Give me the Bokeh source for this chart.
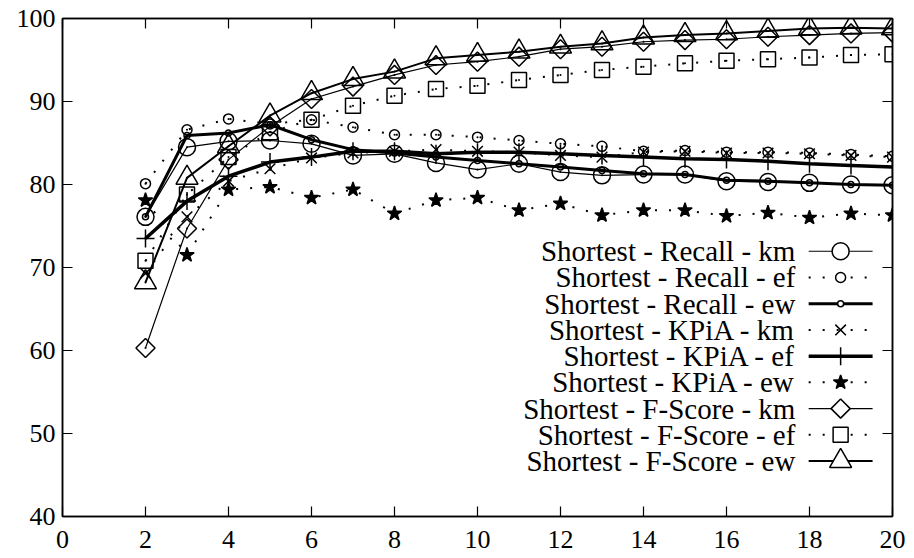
import math

from bokeh.plotting import figure
from bokeh.models import LinearAxis, FixedTicker
from bokeh.core.properties import value
from bokeh.embed import file_html
from bokeh.resources import INLINE

# number of clusters
k_values = list(range(2, 21))

# measured scores (%) per clustering method
recall_km = [76.1, 84.5, 85.2, 85.3, 84.9, 83.5, 83.7, 82.6, 81.8, 82.5,
             81.5, 81.1, 81.2, 81.2, 80.4, 80.3, 80.2, 80.0, 79.9]
recall_ef = [80.1, 86.6, 87.9, 87.3, 87.8, 86.9, 86.0, 86.0, 85.7, 85.3,
             84.9, 84.6, 84.0, 84.1, 83.9, 83.9, 83.8, 83.6, 83.4]
recall_ew = [76.1, 85.9, 86.2, 87.2, 85.4, 84.2, 83.8, 83.3, 82.9, 82.5,
             82.1, 81.7, 81.3, 81.2, 80.5, 80.4, 80.2, 80.0, 79.9]
kpia_km = [69.3, 76.1, 80.4, 81.9, 83.2, 83.8, 84.0, 84.2, 84.0, 83.9,
           83.5, 83.3, 83.9, 84.0, 83.8, 83.8, 83.7, 83.5, 83.3]
kpia_ef = [73.5, 78.0, 81.0, 82.7, 83.3, 84.0, 84.0, 83.7, 83.9, 83.9,
           83.7, 83.5, 83.3, 83.1, 83.0, 82.8, 82.5, 82.3, 82.1]
kpia_ew = [78.1, 71.5, 79.4, 79.7, 78.4, 79.4, 76.5, 78.1, 78.4, 76.9,
           77.7, 76.3, 76.9, 76.9, 76.2, 76.6, 76.0, 76.5, 76.3]
fscore_km = [60.3, 74.7, 83.0, 87.0, 90.3, 91.8, 93.2, 94.4, 94.8, 95.4,
             96.3, 96.6, 97.2, 97.4, 97.5, 97.8, 98.0, 98.2, 98.3]
fscore_ef = [70.8, 78.8, 83.3, 86.3, 87.8, 89.5, 90.7, 91.5, 91.9, 92.6,
             93.2, 93.8, 94.2, 94.6, 94.9, 95.1, 95.3, 95.6, 95.7]
fscore_ew = [68.2, 80.8, 84.6, 88.3, 91.0, 92.7, 93.6, 95.2, 95.6, 96.0,
             96.6, 97.0, 97.7, 98.0, 98.2, 98.5, 98.8, 98.9, 98.8]

series_labels = [
    "Shortest - Recall - km", "Shortest - Recall - ef", "Shortest - Recall - ew",
    "Shortest - KPiA - km", "Shortest - KPiA - ef", "Shortest - KPiA - ew",
    "Shortest - F-Score - km", "Shortest - F-Score - ef", "Shortest - F-Score - ew",
]
series_values = [recall_km, recall_ef, recall_ew, kpia_km, kpia_ef, kpia_ew,
                 fscore_km, fscore_ef, fscore_ew]

x_ticks = list(range(0, 21, 2))
y_ticks = list(range(40, 101, 10))

DOTTED = "2 12"
styles = [
    dict(marker="circle", size=17, lw=1.2, dash="solid", fill=None, angle=0),
    dict(marker="circle", size=10, lw=2.0, dash=DOTTED, fill=None, angle=0),
    dict(marker="circle", size=6, lw=3.0, dash="solid", fill=None, angle=0),
    dict(marker="x", size=15, lw=2.0, dash=DOTTED, fill=None, angle=0),
    dict(marker="cross", size=18, lw=3.5, dash="solid", fill=None, angle=0),
    dict(marker="star", size=15, lw=2.0, dash=DOTTED, fill="black", angle=0),
    dict(marker="square", size=13.5, lw=1.2, dash="solid", fill=None, angle=math.pi / 4),
    dict(marker="square", size=15, lw=2.0, dash=DOTTED, fill=None, angle=0),
    dict(marker="triangle", size=22, lw=2.0, dash="solid", fill=None, angle=0),
]

SERIF = "Liberation Serif"

p = figure(width=914, height=558, x_range=(0, 20), y_range=(40, 100),
           output_backend="svg", toolbar_location=None,
           min_border_left=62, min_border_right=22, min_border_top=18,
           min_border_bottom=42)
p.grid.visible = False
p.background_fill_color = "white"
p.border_fill_color = "white"
p.outline_line_color = "black"
p.outline_line_width = 1.5


def style_axis(ax, ticks, show_labels):
    ax.ticker = FixedTicker(ticks=ticks)
    ax.axis_line_color = "black"
    ax.axis_line_width = 1.5
    ax.major_tick_line_color = "black"
    ax.major_tick_line_width = 1.2
    ax.major_tick_in = 10
    ax.major_tick_out = 0
    ax.minor_tick_line_color = None
    if show_labels:
        ax.major_label_text_font = SERIF
        ax.major_label_text_font_size = "26px"
        ax.major_label_text_color = "black"
    else:
        # mirrored ticks only, no numbers
        ax.major_label_overrides = {t: "" for t in ticks}
        ax.major_label_text_font_size = "1px"
        ax.major_label_standoff = 0


style_axis(p.xaxis[0], x_ticks, True)
style_axis(p.yaxis[0], y_ticks, True)
p.xaxis[0].major_label_standoff = 14
p.yaxis[0].major_label_standoff = 7

top_axis = LinearAxis()
style_axis(top_axis, x_ticks, False)
p.add_layout(top_axis, "above")
right_axis = LinearAxis()
style_axis(right_axis, y_ticks, False)
p.add_layout(right_axis, "right")

# data series
for vals, st in zip(series_values, styles):
    p.line(k_values, vals, line_color="black", line_width=st["lw"],
           line_dash=st["dash"])
    p.scatter(k_values, vals, marker=st["marker"], size=st["size"],
              angle=st["angle"], line_color="black", line_width=1.5,
              fill_color=st["fill"])
    p.scatter(k_values, vals, marker="circle", size=2, line_color=None,
              fill_color="black")

# key: label on the left, sample line with marker on the right
KEY_TEXT_X = 17.66
KEY_LINE_X0 = 17.98
KEY_LINE_X1 = 19.52
KEY_MARK_X = 18.75
KEY_TOP = 71.96
KEY_STEP = 3.16

for i, (label, st) in enumerate(zip(series_labels, styles)):
    ky = KEY_TOP - i * KEY_STEP
    p.text(x=[KEY_TEXT_X], y=[ky], text=[label], text_align="right",
           text_baseline="middle", text_font=value(SERIF),
           text_font_size="29px", text_color="black")
    p.line([KEY_LINE_X0, KEY_LINE_X1], [ky, ky], line_color="black",
           line_width=st["lw"], line_dash=st["dash"])
    p.scatter([KEY_MARK_X], [ky], marker=st["marker"], size=st["size"],
              angle=st["angle"], line_color="black", line_width=1.5,
              fill_color=st["fill"] if st["fill"] else "white")

open("out.html", "w").write(file_html(p, INLINE))
